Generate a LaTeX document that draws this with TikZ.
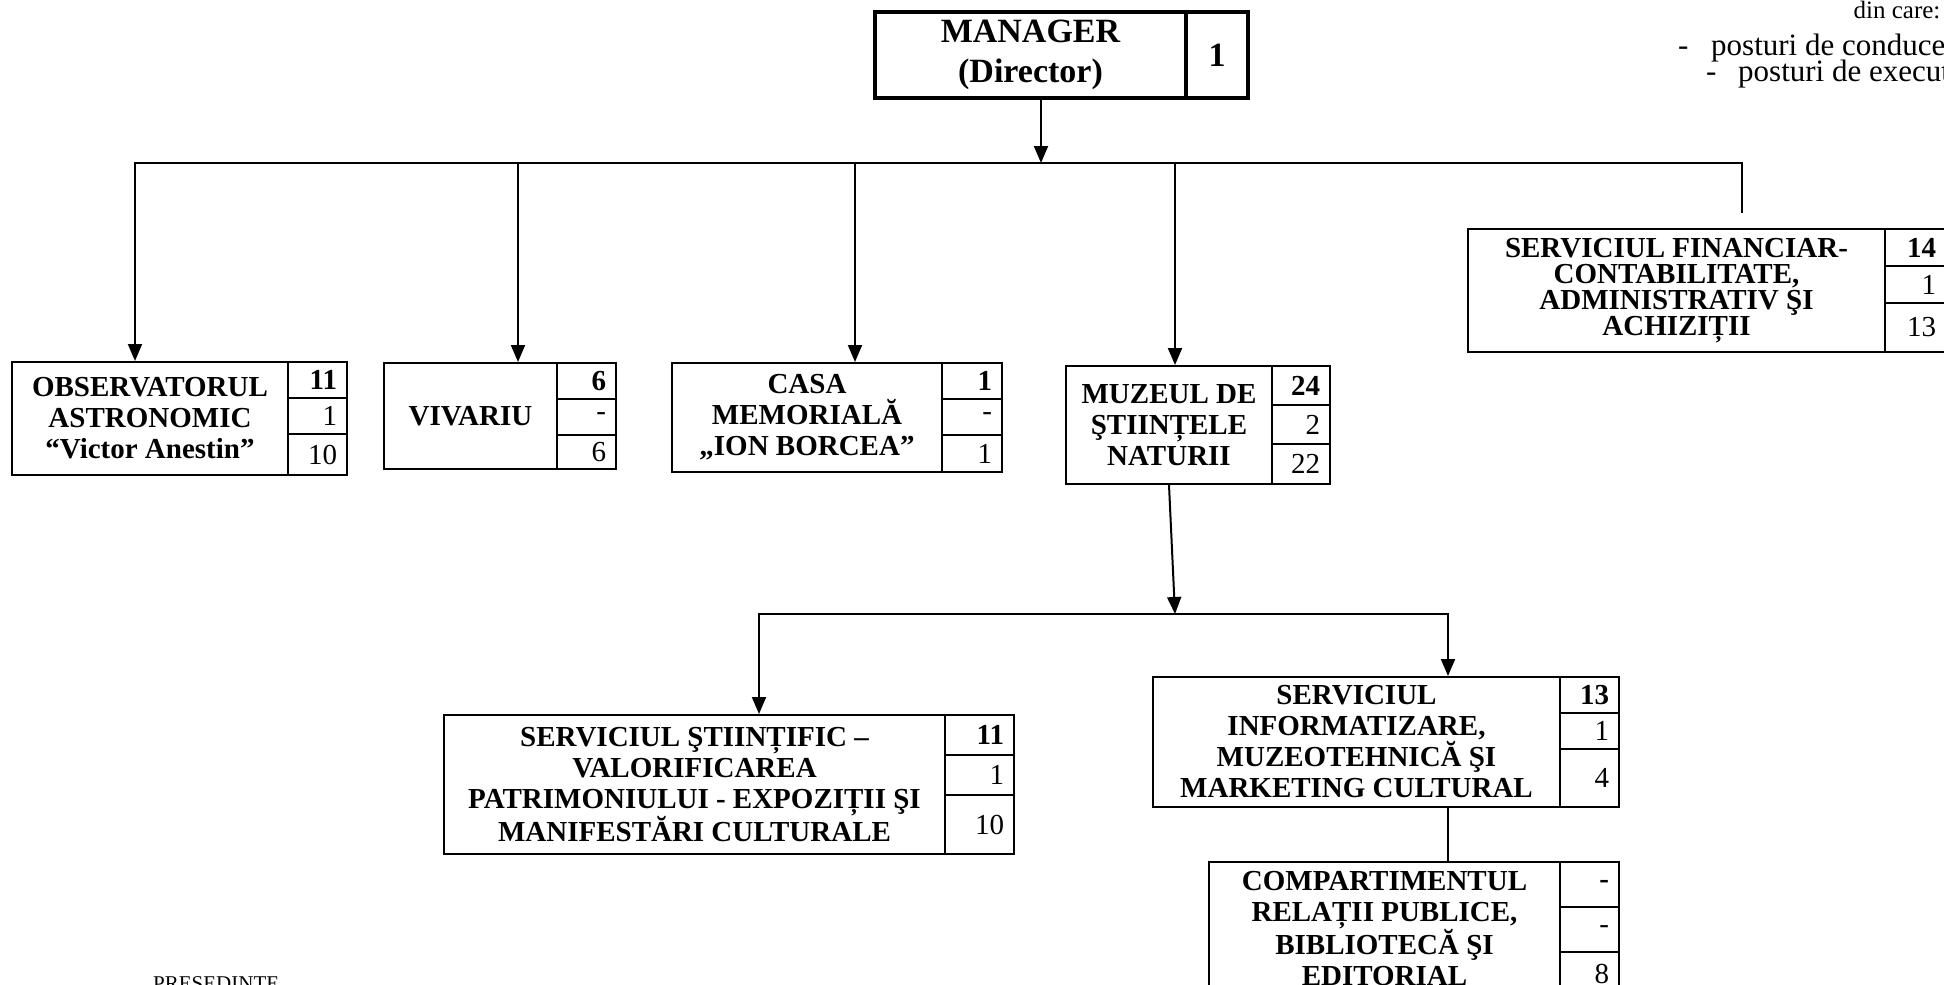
\documentclass[tikz,border=0pt]{standalone}
\usepackage{fontspec}
\setmainfont{Liberation Serif}
\usetikzlibrary{arrows.meta,calc}

% one unit: name, x left, x divider, x right, y top, y bottom, row height, text, numbers
\newcommand{\orgunit}[9]{%
  \pgfmathsetmacro\cw{#3-#2}\pgfmathsetmacro\ch{#6-#5}\pgfmathsetmacro\nw{#4-#3-20}%
  \node[unitbox, minimum width=\cw pt, minimum height=\ch pt] (#1) at ({(#2+#3)/2},{(#5+#6)/2}) {#8};
  \foreach \n [count=\i] in {#9} {
    \ifnum\i<3\relax
      \pgfmathsetmacro\ya{#5+(\i-1)*#7}\pgfmathsetmacro\yb{#5+\i*#7}%
    \else
      \pgfmathsetmacro\ya{#5+2*#7}\pgfmathsetmacro\yb{#6}%
    \fi
    \pgfmathsetmacro\rh{\yb-\ya}%
    \node[numbox, text width=\nw pt, minimum height=\rh pt] (#1\i) at ({(#3+#4)/2},{(\ya+\yb)/2}) {\n};
  }%
}

\begin{document}
\begin{tikzpicture}[x=1pt,y=-1pt,
  unitbox/.style={draw,line width=2pt,align=center,inner sep=0pt,font=\fontsize{29}{31}\selectfont\bfseries},
  numbox/.style={draw,line width=2pt,align=right,inner xsep=10pt,inner ysep=0pt,font=\fontsize{29}{31}\selectfont},
  mgrbox/.style={draw,line width=3.5pt,align=center,inner sep=0pt,font=\fontsize{34}{40}\selectfont\bfseries},
  link/.style={line width=2pt,line cap=rect},
  arr/.style={link,-{Triangle[length=17pt,width=14pt]}},
  note/.style={inner sep=0pt,font=\fontsize{31}{33}\selectfont}]
\useasboundingbox (0,0) rectangle (1944,985);
\clip (0,0) rectangle (1944,985);

\node[mgrbox, minimum width=311pt, minimum height=86pt] (mgr) at (1030.5,55) {MANAGER\\(Director)};
\node[mgrbox, minimum width=62pt, minimum height=86pt] (mgrn) at (1217,55) {1};

\orgunit{obs}{12}{288}{347}{362}{475}{36}{OBSERVATORUL\\ASTRONOMIC\\“Victor Anestin”}{\textbf{11},1,10}
\orgunit{viv}{384}{557}{616}{363}{469}{36}{VIVARIU}{\textbf{6},-,6}
\orgunit{casa}{672}{942}{1002}{363}{472}{36}{CASA\\MEMORIALĂ\\„ION BORCEA”}{\textbf{1},-,1}
\orgunit{muz}{1066}{1272}{1330}{366}{484}{39}{MUZEUL DE\\ŞTIINȚELE\\NATURII}{\textbf{24},2,22}
\begin{scope}[unitbox/.append style={font=\fontsize{29}{26}\selectfont\bfseries}]
\orgunit{fin}{1468}{1885}{1946}{229}{352}{37}{SERVICIUL FINANCIAR-\\CONTABILITATE,\\ADMINISTRATIV ŞI\\ACHIZIȚII}{\textbf{14},1,13}
\end{scope}
\orgunit{sti}{444}{945}{1014}{715}{854}{40}{SERVICIUL ŞTIINȚIFIC –\\VALORIFICAREA\\PATRIMONIULUI - EXPOZIȚII ŞI\\MANIFESTĂRI CULTURALE}{\textbf{11},1,10}
\orgunit{inf}{1153}{1560}{1619}{677}{807}{36}{SERVICIUL\\INFORMATIZARE,\\MUZEOTEHNICĂ ŞI\\MARKETING CULTURAL}{\textbf{13},1,4}
\orgunit{comp}{1209}{1560}{1619}{862}{995}{45}{COMPARTIMENTUL\\RELAȚII PUBLICE,\\BIBLIOTECĂ ŞI\\EDITORIAL}{\textbf{-},-,8}

% upper bus
\coordinate (top) at (1041,163);
\coordinate (b1) at (135,163);
\coordinate (b2) at (518,163);
\coordinate (b3) at (855,163);
\coordinate (b4) at (1175,163);
\coordinate (b5) at (1742,163);
\coordinate (finj) at (1742,212);
\draw[arr] (mgr.south -| top) -- (top);
\draw[link] (b1) -- (b5) -- (finj);
\foreach \c/\u in {b1/obs,b2/viv,b3/casa,b4/muz}
  \draw[arr] (\c) -- (\u.north -| \c);

% lower bus
\coordinate (m0) at (1175,614);
\coordinate (m1) at (759,614);
\coordinate (m2) at (1448,614);
\draw[arr] (muz.south) -- (m0);
\draw[link] (m1) -- (m2);
\draw[arr] (m1) -- (sti.north -| m1);
\draw[arr] (m2) -- (inf.north -| m2);
\draw[link] (inf.south -| m2) -- (comp.north -| m2);

\node[note, font=\fontsize{25}{27}\selectfont, anchor=base] (dc) at (1897,19) {din care:};
\node[note, anchor=base west] (d1) at (1678,55) {-};
\node[note, anchor=base west] (p1) at (1711,55) {posturi de conducere};
\node[note, anchor=base west] (d2) at (1706,81) {-};
\node[note, anchor=base west] (p2) at (1738,81) {posturi de execuție};
\node[note, font=\fontsize{21}{23}\selectfont, anchor=base west] (pres) at (153,990) {PRESEDINTE};
\end{tikzpicture}
\end{document}
